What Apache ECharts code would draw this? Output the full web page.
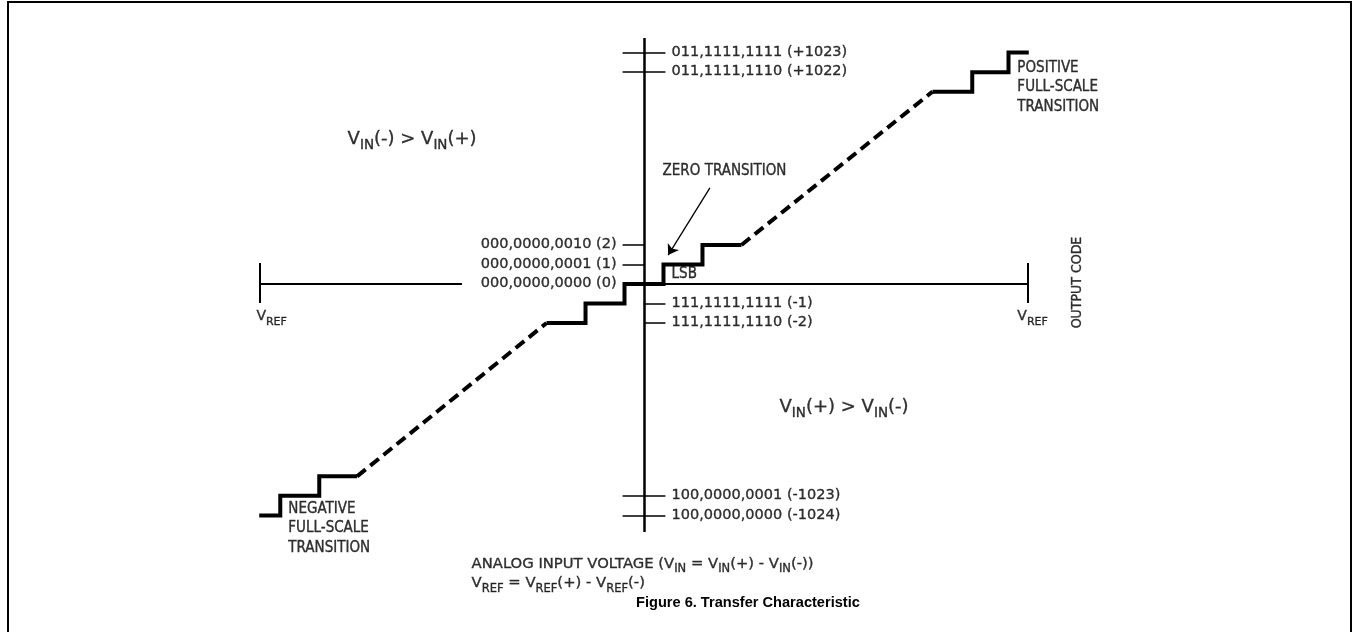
<!DOCTYPE html>
<html><head><meta charset="utf-8">
<script src="https://cdn.jsdelivr.net/npm/echarts@6/dist/echarts.min.js"></script>
<style>html,body{margin:0;padding:0;background:#fff}#c{width:1353px;height:632px}</style>
</head><body><div id="c"></div>
<script>
// ---- data (schematic units: x in LSB of input, y in output-code rows) ----
const xRange = [-9.85, 9.85];
const yRange = [-12.7, 12.7];
const stepCenter = [[-2.5,-2],[-1.5,-2],[-1.5,-1],[-0.5,-1],[-0.5,0],[0.5,0],[0.5,1],[1.5,1],[1.5,2],[2.5,2]];
const stepTop    = [[7.4,9.85],[8.42,9.85],[8.42,10.85],[9.35,10.85],[9.35,11.85],[9.87,11.85]];
const stepBottom = [[-9.87,-11.85],[-9.33,-11.85],[-9.33,-10.85],[-8.33,-10.85],[-8.33,-9.85],[-7.36,-9.85]];
const dashUpper  = [[2.5,2],[7.4,9.85]];
const dashLower  = [[-7.36,-9.85],[-2.5,-2]];
const rightCodeLevels = [11.85, 10.85, -1, -2, -10.85, -11.85];
const rightCodeLabels = ['011,1111,1111 (+1023)','011,1111,1110 (+1022)','111,1111,1111 (-1)','111,1111,1110 (-2)','100,0000,0001 (-1023)','100,0000,0000 (-1024)'];
const leftCodeLevels = [2, 1, 0];
const leftCodeLabels = ['000,0000,0010 (2)','000,0000,0001 (1)','000,0000,0000 (0)'];
const crossTickLevels = [11.85, 10.85, -10.85, -11.85];
const leftTickLevels = [2, 1];
const rightTickLevels = [-1, -2];
const axisTop = 12.6, axisBottom = -12.7;
const zeroLabelLeftEnd = -4.67;

// ---- build ----
const FS = "'DejaVu Sans', sans-serif";
const FC = "'DejaVu Sans Condensed','DejaVu Sans',sans-serif";
const TH = 0.55;
const black = '#000';
const TB = { textBorderColor: '#000', textBorderWidth: 0.35 };

const axisSegs = [
  [[xRange[0],0],[zeroLabelLeftEnd,0]],
  [[0.5,0],[xRange[1],0]]
];
const vAxis = [[[0,axisTop],[0,axisBottom]]];
const capSegs = [
  [[xRange[0],1.07],[xRange[0],-0.97]],
  [[xRange[1],1.07],[xRange[1],-0.97]]
];
const tickSegs = [];
crossTickLevels.forEach(y => tickSegs.push([[-TH,y],[TH,y]]));
leftTickLevels.forEach(y => tickSegs.push([[-TH,y],[0,y]]));
rightTickLevels.forEach(y => tickSegs.push([[0,y],[TH,y]]));

function rt(parts){ return parts.map(p => '{' + p[0] + '|' + p[1] + '}').join(''); }
function lab(x, y, text, opt) {
  return { value: [x, y], label: Object.assign({
    show: true, position: [0, 0], formatter: () => text, color: black,
    fontFamily: FS, fontSize: 14.5, align: 'left', verticalAlign: 'middle'
  }, TB, opt || {}) };
}
const subRich = (big, small, lh) => ({
  m: Object.assign({ fontFamily: FS, fontSize: big, color: black, lineHeight: lh }, TB),
  s: Object.assign({ fontFamily: FS, fontSize: small, color: black, verticalAlign: 'bottom' }, TB)
});

const texts = [];
rightCodeLevels.forEach((y,i) => texts.push(lab(0.72, y, rightCodeLabels[i])));
leftCodeLevels.forEach((y,i) => texts.push(lab(-0.69, y, leftCodeLabels[i], {align:'right'})));
texts.push(lab(0.49, 5.73, 'ZERO TRANSITION', {fontFamily: FC, fontSize: 15}));
texts.push(lab(0.72, 0.46, 'LSB', {fontFamily: FC, fontSize: 15}));
texts.push(lab(9.59, 10.04, 'POSITIVE\nFULL-SCALE\nTRANSITION', {fontFamily: FC, fontSize: 15, lineHeight: 19.5}));
texts.push(lab(-9.11, -12.55, 'NEGATIVE\nFULL-SCALE\nTRANSITION', {fontFamily: FC, fontSize: 15, lineHeight: 19.5}));
texts.push(lab(11.12, 0.05, 'OUTPUT CODE', {fontFamily: FC, fontSize: 14, rotate: 90, align: 'center'}));
texts.push(lab(-7.59, 7.4, rt([['m','V'],['s','IN'],['m','(-) > V'],['s','IN'],['m','(+)']]), {rich: subRich(18, 13.5, 27)}));
texts.push(lab(3.49, -6.33, rt([['m','V'],['s','IN'],['m','(+) > V'],['s','IN'],['m','(-)']]), {rich: subRich(18, 13.5, 27)}));
texts.push(lab(-9.93, -1.7, rt([['m','V'],['s','REF']]), {rich: subRich(14, 11, 22)}));
texts.push(lab(9.59, -1.7, rt([['m','V'],['s','REF']]), {rich: subRich(14, 11, 22)}));
texts.push(lab(-4.41, -14.35, rt([['m','ANALOG INPUT VOLTAGE (V'],['s','IN'],['m',' = V'],['s','IN'],['m','(+) - V'],['s','IN'],['m','(-))']]), {rich: subRich(14.8, 11.5, 22)}));
texts.push(lab(-4.41, -15.37, rt([['m','V'],['s','REF'],['m',' = V'],['s','REF'],['m','(+) - V'],['s','REF'],['m','(-)']]), {rich: subRich(14.8, 11.5, 22)}));

const lineBase = { type: 'line', symbol: 'none', clip: false, silent: true, z: 5 };
const solid = { color: black, width: 4, join: 'miter', cap: 'butt' };
const dashed = { color: black, width: 4, type: [11, 6], cap: 'butt' };

const option = {
  animation: false,
  backgroundColor: '#fff',
  title: {
    text: 'Figure 6. Transfer Characteristic', left: 631, top: 590,
    textStyle: { fontFamily: "'Liberation Sans', Arial, sans-serif", fontWeight: 'bold', fontSize: 14.6, color: black }
  },
  grid: { left: 260, width: 768, top: 36, height: 496 },
  xAxis: { type: 'value', min: xRange[0], max: xRange[1], show: false },
  yAxis: { type: 'value', min: yRange[0], max: yRange[1], show: false },
  graphic: [{ type: 'rect', shape: { x: 8, y: 2, width: 1343, height: 700 }, style: { fill: 'none', stroke: black, lineWidth: 2 }, silent: true }],
  series: [
    { type: 'lines', coordinateSystem: 'cartesian2d', silent: true, z: 2, data: axisSegs.map(c => ({coords: c})), lineStyle: { color: black, width: 2, opacity: 1 } },
    { type: 'lines', coordinateSystem: 'cartesian2d', silent: true, z: 2, data: vAxis.map(c => ({coords: c})), lineStyle: { color: black, width: 2.5, opacity: 1 } },
    { type: 'lines', coordinateSystem: 'cartesian2d', silent: true, z: 2, data: capSegs.map(c => ({coords: c})), lineStyle: { color: black, width: 2, opacity: 1 } },
    { type: 'lines', coordinateSystem: 'cartesian2d', silent: true, z: 2, data: tickSegs.map(c => ({coords: c})), lineStyle: { color: black, width: 1.5, opacity: 1 } },
    { type: 'lines', coordinateSystem: 'cartesian2d', silent: true, z: 2, symbol: ['none','arrow'], symbolSize: 10,
      data: [{coords: [[1.69,4.92],[0.62,1.48]]}], lineStyle: { color: black, width: 1.3, opacity: 1 } },
    Object.assign({}, lineBase, { data: stepCenter, lineStyle: solid }),
    Object.assign({}, lineBase, { data: stepTop, lineStyle: solid }),
    Object.assign({}, lineBase, { data: stepBottom, lineStyle: solid }),
    Object.assign({}, lineBase, { data: dashUpper, lineStyle: dashed }),
    Object.assign({}, lineBase, { data: dashLower, lineStyle: dashed }),
    { type: 'scatter', data: texts, symbolSize: 1, itemStyle: { color: 'rgba(0,0,0,0)' }, clip: false, silent: true, z: 6 }
  ]
};
const chart = echarts.init(document.getElementById('c'));
chart.setOption(option);
</script></body></html>
